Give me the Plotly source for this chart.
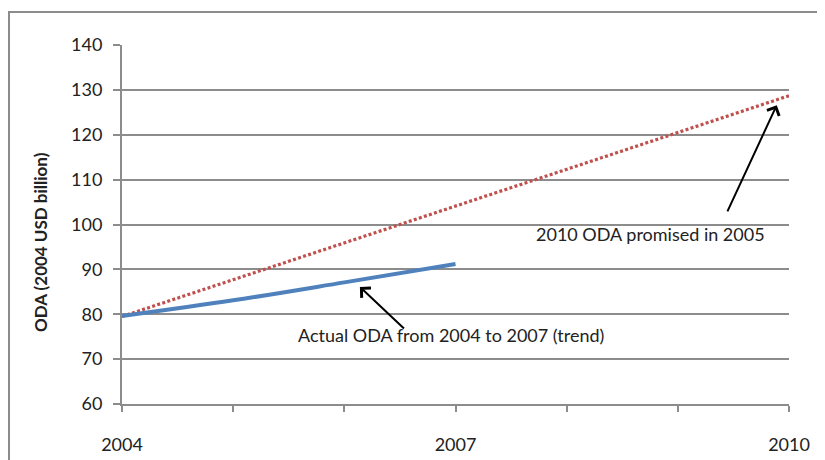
import plotly.graph_objects as go

years = [2004, 2005, 2006, 2007, 2008, 2009, 2010]
year_labels = ["2004", "", "", "2007", "", "", "2010"]
promised_years = [2004, 2005, 2006, 2007, 2008, 2009, 2010]
promised_oda = [79.5, 87.7, 95.9, 104.1, 112.3, 120.5, 128.7]
actual_years = [2004, 2005, 2006, 2007]
actual_oda = [79.6, 83.1, 87.1, 91.2]
y_ticks = [60, 70, 80, 90, 100, 110, 120, 130, 140]

GRID = "#8c8c8c"
FONT = "Lato"
TXT = "#222222"

fig = go.Figure()
fig.add_trace(go.Scatter(x=promised_years, y=promised_oda, mode="lines",
                         line=dict(color="#c0504d", width=3.2, dash="3px,2.3px"),
                         showlegend=False, hoverinfo="skip"))
fig.add_trace(go.Scatter(x=actual_years, y=actual_oda, mode="lines",
                         line=dict(color="#4f81bd", width=4, shape="spline"),
                         showlegend=False, hoverinfo="skip"))

fig.update_layout(
    width=825, height=460,
    margin=dict(l=114, r=44, t=37, b=64),
    paper_bgcolor="white", plot_bgcolor="white",
    font=dict(family=FONT, size=18, color=TXT),
    xaxis=dict(range=[2004, 2010], tickmode="array", tickvals=years, ticktext=year_labels,
               showgrid=False, zeroline=False, showline=True, linecolor=GRID, linewidth=2,
               ticks="outside", ticklen=6, tickwidth=2, tickcolor=GRID,
               ticklabelstandoff=17, fixedrange=True),
    yaxis=dict(range=[60, 140], tickmode="array", tickvals=y_ticks,
               showgrid=True, gridcolor=GRID, gridwidth=2, zeroline=False,
               showline=True, linecolor=GRID, linewidth=2,
               ticks="outside", ticklen=7, tickwidth=2, tickcolor=GRID,
               ticklabelstandoff=7, fixedrange=True),
    shapes=[dict(type="rect", xref="paper", yref="paper",
                 x0=-0.1694, x1=1.07, y0=-0.2, y1=1.092,
                 line=dict(color=GRID, width=2), fillcolor="rgba(0,0,0,0)", layer="below")],
    annotations=[
        dict(text="<b>ODA (2004 USD billion)</b>", xref="paper", yref="paper",
             x=-0.123, y=0.451, xanchor="center", yanchor="middle",
             textangle=-90, showarrow=False,
             font=dict(size=17, color=TXT, family=FONT)),
        dict(text="Actual ODA from 2004 to 2007 (trend)", x=2006.96, y=75.3,
             showarrow=False, font=dict(size=18, color=TXT)),
        dict(text="2010 ODA promised in 2005", x=2008.75, y=97.8,
             showarrow=False, font=dict(size=18, color=TXT)),
        dict(text="", x=2006.14, y=86.1, ax=2006.55, ay=76.5, axref="x", ayref="y",
             showarrow=True, arrowhead=4, arrowsize=1.3, arrowwidth=2, arrowcolor="black"),
        dict(text="", x=2009.89, y=126.6, ax=2009.44, ay=102.6, axref="x", ayref="y",
             showarrow=True, arrowhead=4, arrowsize=1.3, arrowwidth=2, arrowcolor="black"),
    ],
)

fig.write_html("out.html")
